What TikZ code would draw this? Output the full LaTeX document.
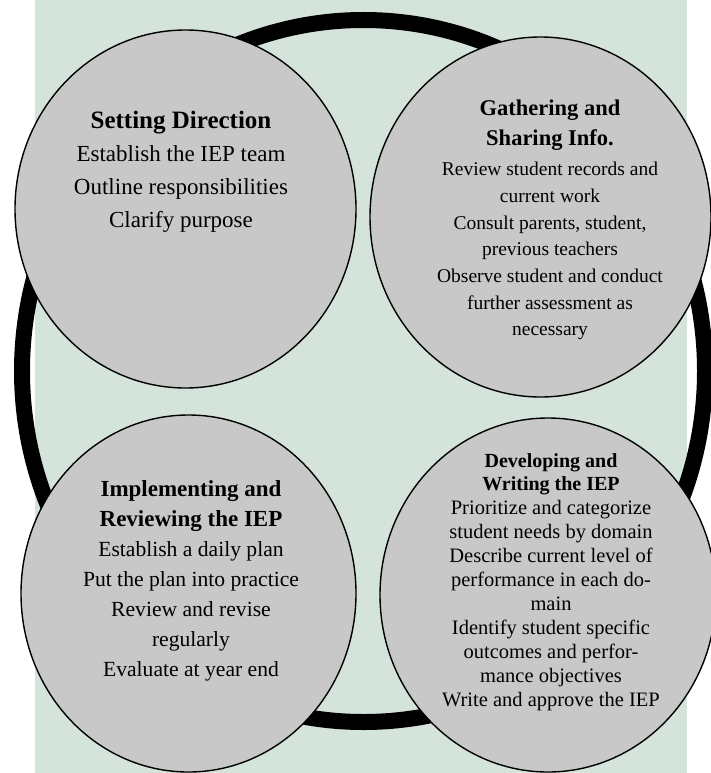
\documentclass[tikz,border=0pt]{standalone}
\usepackage{fontspec}
\setmainfont{Liberation Serif}
\usetikzlibrary{shapes.geometric}
\definecolor{cyclegreen}{RGB}{212, 228, 218}
\definecolor{phasegray}{RGB}{200, 200, 200}
\tikzset{
  phase/.style={
    ellipse,
    draw=black,
    line width=1.4pt,
    fill=phasegray,
    inner sep=0pt
  },
  phase text/.style={
    align=center,
    inner sep=0pt,
    text=black
  },
  cycle ring/.style={
    draw=black,
    line width=16pt
  }
}

\begin{document}
\begin{tikzpicture}[x=1pt, y=-1pt]
  \useasboundingbox (0, 0) rectangle (710, 773);
  \fill[cyclegreen] (35, 0) rectangle (687, 773);
  \draw[cycle ring] (363.5, 371) ellipse[x radius=341.5, y radius=351];

  \node[phase, minimum width=341pt, minimum height=358pt] (1) at (185.5, 209) {};
  \node[phase, minimum width=341pt, minimum height=360pt] (2) at (540.5, 217) {};
  \node[phase, minimum width=336pt, minimum height=354pt] (3) at (548, 595) {};
  \node[phase, minimum width=335pt, minimum height=357pt] (4) at (188.5, 593.5) {};

  \node[phase text, font=\fontsize{23}{33}\selectfont] (1t) at (181, 172)
    {{\fontsize{25}{33}\selectfont\bfseries Setting Direction}\\
     Establish the IEP team\\ Outline responsibilities\\ Clarify purpose};
  \node[phase text, font=\fontsize{19.5}{26.7}\selectfont] (2t) at (550, 220)
    {{\fontsize{22.5}{30}\selectfont\bfseries Gathering and}\\[3.3pt]
     {\fontsize{22.5}{30}\selectfont\bfseries Sharing Info.}\\[3.3pt]
     Review student records and\\ current work\\
     Consult parents, student,\\ previous teachers\\
     Observe student and conduct\\ further assessment as\\ necessary};
  \node[phase text, font=\fontsize{20.5}{24}\selectfont] (3t) at (551, 582)
    {{\fontsize{20}{23}\selectfont\bfseries Developing and}\\[-1pt]
     {\fontsize{20}{23}\selectfont\bfseries Writing the IEP}\\
     Prioritize and categorize\\ student needs by domain\\
     Describe current level of\\ performance in each do-\\ main\\
     Identify student specific\\ outcomes and perfor-\\ mance objectives\\
     Write and approve the IEP};
  \node[phase text, font=\fontsize{21.6}{30}\selectfont] (4t) at (191, 581)
    {{\fontsize{23}{30}\selectfont\bfseries Implementing and}\\
     {\fontsize{23}{30}\selectfont\bfseries Reviewing the IEP}\\
     Establish a daily plan\\ Put the plan into practice\\
     Review and revise\\ regularly\\ Evaluate at year end};
\end{tikzpicture}
\end{document}
